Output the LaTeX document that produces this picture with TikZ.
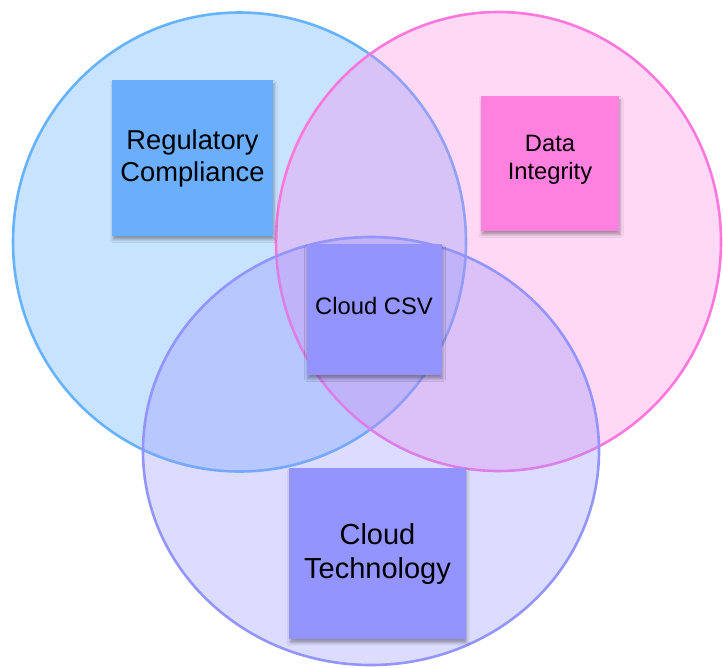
\documentclass[tikz,border=0pt]{standalone}
\usepackage{fontspec}
\setmainfont{Liberation Sans}
\usetikzlibrary{shapes.geometric,shadows.blur}

\definecolor{regblue}{HTML}{66B2FF}
\definecolor{dipink}{HTML}{FF77DD}
\definecolor{cloudpurple}{HTML}{9494FF}
\definecolor{noteblue}{HTML}{6AAEFC}
\definecolor{notepink}{HTML}{FF80DE}
\definecolor{notepurple}{HTML}{9494FF}

\begin{document}
\begin{tikzpicture}[x=1pt,y=-1pt,
  setring/.style={ellipse, draw=#1, fill=#1, line width=2.6pt, inner sep=0pt},
  note/.style={rectangle, fill=#1, inner sep=0pt, align=center, text=black,
    blur shadow={shadow xshift=1pt, shadow yshift=-3.5pt,
                 shadow blur radius=3pt, shadow opacity=35}},
]
\useasboundingbox (0,0) rectangle (723,667);

% the three overlapping sets
\node[setring=regblue, fill opacity=0.37, minimum width=453pt, minimum height=459pt]
  (regset) at (239.5,242) {};
\node[setring=dipink, fill opacity=0.29, minimum width=445pt, minimum height=459pt]
  (diset) at (498.5,241.5) {};
\node[setring=cloudpurple, fill opacity=0.33, minimum width=456pt, minimum height=428pt]
  (cloudset) at (371,451) {};

% sticky notes
\node[note=noteblue, minimum width=161pt, minimum height=156pt,
      font=\fontsize{27.3}{32}\selectfont]
  (reg) at (192.5,158) {Regulatory\\Compliance};
\node[note=notepink, minimum width=138pt, minimum height=135pt,
      font=\fontsize{23.7}{28.3}\selectfont, text depth=12.4pt]
  (di) at (550,163.5) {Data\\Integrity};
\node[note=notepurple, minimum width=135pt, minimum height=131pt,
      font=\fontsize{23.8}{28}\selectfont, text depth=8.6pt]
  (csv) at (374,309.7) {Cloud CSV};
\node[note=notepurple, minimum width=176.5pt, minimum height=171pt,
      font=\fontsize{29}{33.5}\selectfont]
  (tech) at (377.5,553.8) {Cloud\\Technology};
\end{tikzpicture}
\end{document}
